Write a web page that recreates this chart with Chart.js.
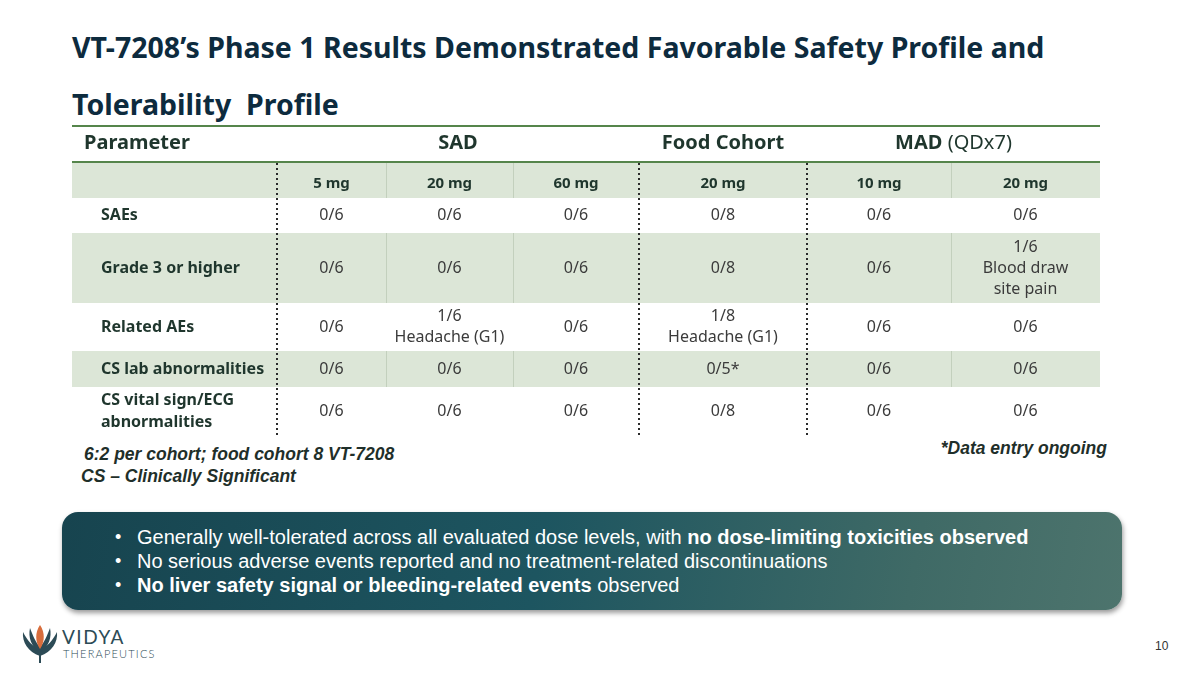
<!DOCTYPE html>
<html>
<head>
<meta charset="utf-8">
<script src="https://cdn.jsdelivr.net/npm/chart.js@4"></script>
<style>
  body { margin: 0; background: #fff; }
  #slide { position: relative; width: 1200px; height: 675px; overflow: hidden; background: #fff; font-family: "Liberation Sans", Arial, sans-serif; }
  #title { position: absolute; left: 72px; top: 19px; font-family: "Noto Sans", sans-serif; font-weight: 700; font-size: 28.5px; line-height: 57px; color: #0d2b3e; white-space: nowrap; }
  #tableWrap { position: absolute; left: 72px; top: 125px; width: 1028px; height: 312px; }
  .note { position: absolute; font-family: "Liberation Sans", Arial, sans-serif; font-weight: 700; font-style: italic; font-size: 17.5px; color: #1f2f2a; white-space: nowrap; }
  #box { position: absolute; left: 62px; top: 512px; width: 1060px; height: 98px; border-radius: 16px;
         background: linear-gradient(100deg, #17444f 0%, #1d5560 45%, #3f6a66 80%, #4d746d 100%);
         box-shadow: 1px 3px 5px rgba(0,0,0,0.4); }
  #box ul { margin: 0; padding: 0; list-style: none; position: absolute; left: 0; top: 13px; }
  #box li { position: relative; padding-left: 75px; font-size: 20px; line-height: 24px; color: #fff; white-space: nowrap; }
  #box li:before { content: "\2022"; position: absolute; left: 53px; font-size: 18px; }
  #pageNo { position: absolute; left: 1155px; top: 639px; font-size: 12px; color: #333; }
  #logo { position: absolute; left: 18px; top: 620px; }
</style>
</head>
<body>
<div id="slide">
  <div id="title">VT-7208’s Phase 1 Results Demonstrated Favorable Safety Profile and<br>Tolerability&nbsp; Profile</div>
  <div id="tableWrap"><canvas id="safetyTable" width="1028" height="312"></canvas></div>
  <div class="note" style="left:84px; top:444px;">6:2 per cohort; food cohort 8 VT-7208</div>
  <div class="note" style="left:81px; top:466px;">CS – Clinically Significant</div>
  <div class="note" style="right:93px; top:438px;">*Data entry ongoing</div>
  <div id="box">
    <ul>
      <li>Generally well-tolerated across all evaluated dose levels, with <b>no dose-limiting toxicities observed</b></li>
      <li>No serious adverse events reported and no treatment-related discontinuations</li>
      <li><b>No liver safety signal or bleeding-related events</b> observed</li>
    </ul>
  </div>
  <svg id="logo" width="150" height="46" viewBox="0 0 150 46">
    <g fill="#2c4b56">
      <path d="M22 36 C10 32 4 22 5 12 C9 20 15 27 22 30 Z"/>
      <path d="M22 36 C34 32 40 22 39 12 C35 20 29 27 22 30 Z"/>
      <path d="M22 32 C13 27 10 17 12 8 C15 16 18 23 22 27 Z"/>
      <path d="M22 32 C31 27 34 17 32 8 C29 16 26 23 22 27 Z"/>
      <rect x="21" y="34" width="2" height="9"/>
    </g>
    <path d="M22 5 C27 12 27 22 22 29 C17 22 17 12 22 5 Z" fill="#d86d3c"/>
    <text x="44" y="24" font-family="Lato, sans-serif" font-size="19" letter-spacing="1.5" fill="#2c4b56">VIDYA</text>
    <text x="45" y="38" font-family="Lato, sans-serif" font-size="11" font-weight="300" letter-spacing="1.2" fill="#2c4b56">THERAPEUTICS</text>
  </svg>
  <div id="pageNo">10</div>
</div>

<script>
// table content
const groupLabels = ["SAD", "Food Cohort", "MAD"];
const groupSuffix = ["", "", " (QDx7)"];
const groupSpans = [3, 1, 2];
const doseLabels = ["5 mg", "20 mg", "60 mg", "20 mg", "10 mg", "20 mg"];
const rowLabels = [["SAEs"], ["Grade 3 or higher"], ["Related AEs"], ["CS lab abnormalities"], ["CS vital sign/ECG", "abnormalities"]];
const saes = ["0/6", "0/6", "0/6", "0/8", "0/6", "0/6"];
const grade3 = ["0/6", "0/6", "0/6", "0/8", "0/6", "1/6\nBlood draw\nsite pain"];
const relatedAEs = ["0/6", "1/6\nHeadache (G1)", "0/6", "1/8\nHeadache (G1)", "0/6", "0/6"];
const csLab = ["0/6", "0/6", "0/6", "0/5*", "0/6", "0/6"];
const csVital = ["0/6", "0/6", "0/6", "0/8", "0/6", "0/6"];
const rowValues = [saes, grade3, relatedAEs, csLab, csVital];

// layout of the grid (table units = px of the canvas)
const colEdges = [0, 205, 314, 441, 567, 735, 879, 1028];
const rowEdges = [0, 37, 73, 108, 178, 226, 262, 310];
const shadedRows = [1, 3, 5];
const groupEdgeCols = [1, 4, 5];   // dotted separators
const innerEdgeCols = [2, 3, 6];   // faint separators

const green = "#55854b";
const band = "#dce6d7";
const headColor = "#1f362d";
const valueColor = "#3b3b3b";
const tableFont = "'Noto Sans', sans-serif";

const colCenter = j => (colEdges[j + 1] + colEdges[j + 2]) / 2;
const rowCenter = i => (rowEdges[i] + rowEdges[i + 1]) / 2;

// one scatter dataset per body row, points carry the cell text
const datasets = rowValues.map((vals, i) => ({
  label: rowLabels[i].join(" "),
  data: vals.map((v, j) => ({ x: colCenter(j), y: rowCenter(i + 2), text: v })),
  pointRadius: 0
}));
datasets.push({
  label: "doses",
  data: doseLabels.map((d, j) => ({ x: colCenter(j), y: rowCenter(1) + 4, text: d, head: true })),
  pointRadius: 0
});

const tablePlugin = {
  id: "tableGrid",
  beforeDatasetsDraw(chart) {
    const { ctx, scales: { x, y } } = chart;
    const X = v => x.getPixelForValue(v), Y = v => y.getPixelForValue(v);
    const left = X(colEdges[0]), right = X(colEdges[colEdges.length - 1]);
    ctx.save();
    shadedRows.forEach(r => {
      ctx.fillStyle = band;
      ctx.fillRect(left, Y(rowEdges[r]), right - left, Y(rowEdges[r + 1]) - Y(rowEdges[r]));
      ctx.strokeStyle = "#c3d0bd";
      ctx.lineWidth = 1;
      innerEdgeCols.forEach(c => {
        ctx.beginPath();
        ctx.moveTo(Math.round(X(colEdges[c])) + 0.5, Y(rowEdges[r]));
        ctx.lineTo(Math.round(X(colEdges[c])) + 0.5, Y(rowEdges[r + 1]));
        ctx.stroke();
      });
    });
    // green rules
    ctx.strokeStyle = green;
    ctx.lineWidth = 2;
    [rowEdges[0] + 1, rowEdges[1]].forEach(v => {
      ctx.beginPath();
      ctx.moveTo(left, Y(v));
      ctx.lineTo(right, Y(v));
      ctx.stroke();
    });
    // dotted group separators
    ctx.strokeStyle = "#2a2a2a";
    ctx.lineWidth = 2;
    ctx.setLineDash([2, 3]);
    groupEdgeCols.forEach(c => {
      ctx.beginPath();
      ctx.moveTo(X(colEdges[c]), Y(rowEdges[1] + 1));
      ctx.lineTo(X(colEdges[c]), Y(rowEdges[rowEdges.length - 1]));
      ctx.stroke();
    });
    ctx.restore();
  },
  afterDatasetsDraw(chart) {
    const { ctx, scales: { x, y } } = chart;
    const X = v => x.getPixelForValue(v), Y = v => y.getPixelForValue(v);
    ctx.save();
    ctx.textBaseline = "middle";

    // group header row
    ctx.fillStyle = headColor;
    ctx.textAlign = "left";
    ctx.font = "700 20px " + tableFont;
    ctx.fillText("Parameter", X(12), Y(rowCenter(0)));
    let c = 1;
    groupLabels.forEach((g, k) => {
      const mid = X((colEdges[c] + colEdges[c + groupSpans[k]]) / 2);
      c += groupSpans[k];
      ctx.font = "700 20px " + tableFont;
      const w1 = ctx.measureText(g).width;
      ctx.font = "400 20px " + tableFont;
      const w2 = ctx.measureText(groupSuffix[k]).width;
      const start = mid - (w1 + w2) / 2;
      ctx.font = "700 20px " + tableFont;
      ctx.fillText(g, start, Y(rowCenter(0)));
      ctx.font = "400 20px " + tableFont;
      ctx.fillText(groupSuffix[k], start + w1, Y(rowCenter(0)));
    });

    // row labels
    ctx.font = "700 16px " + tableFont;
    rowLabels.forEach((lines, i) => {
      const cy = Y(rowCenter(i + 2));
      lines.forEach((t, n) => ctx.fillText(t, X(29), cy + (n - (lines.length - 1) / 2) * 22));
    });

    // cell texts from dataset points
    ctx.textAlign = "center";
    chart.data.datasets.forEach((ds, di) => {
      const meta = chart.getDatasetMeta(di);
      meta.data.forEach((pt, j) => {
        const item = ds.data[j];
        const lines = item.text.split("\n");
        ctx.font = (item.head ? "700 15px " : "400 16px ") + tableFont;
        ctx.fillStyle = item.head ? headColor : valueColor;
        lines.forEach((t, n) => ctx.fillText(t, pt.x, pt.y + (n - (lines.length - 1) / 2) * 21));
      });
    });
    ctx.restore();
  }
};

new Chart(document.getElementById("safetyTable"), {
  type: "scatter",
  data: { datasets: datasets },
  options: {
    responsive: false,
    animation: false,
    events: [],
    layout: { padding: 0 },
    plugins: { legend: { display: false }, tooltip: { enabled: false } },
    scales: {
      x: { type: "linear", display: false, min: 0, max: 1028 },
      y: { type: "linear", display: false, min: 0, max: 312, reverse: true }
    }
  },
  plugins: [tablePlugin]
});
</script>
</body>
</html>
